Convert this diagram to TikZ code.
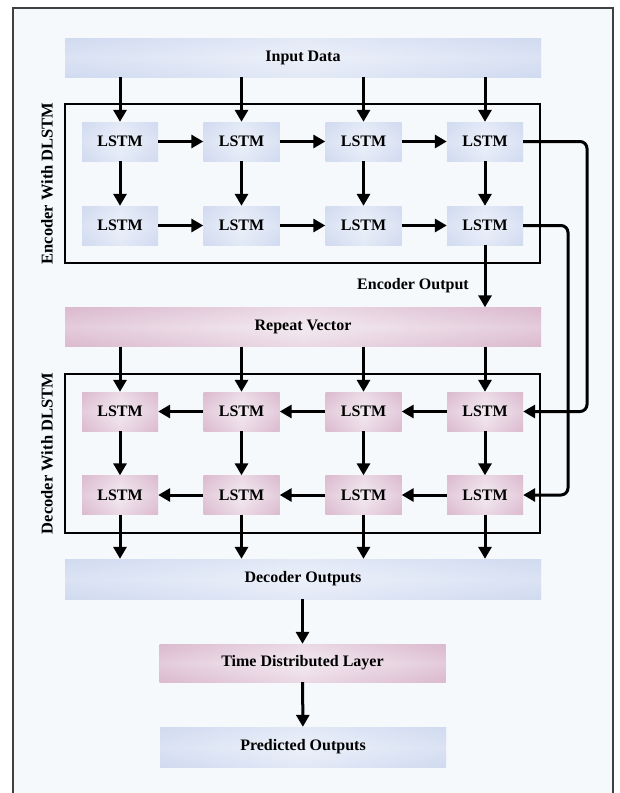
\documentclass[tikz,border=0pt]{standalone}
\usepackage{fontspec}
\setmainfont{Liberation Serif}
\usetikzlibrary{arrows.meta}
\definecolor{bgc}{HTML}{F5F9FC}
\definecolor{bedge}{HTML}{C2CEEC}
\definecolor{bmid}{HTML}{E9EEF9}
\definecolor{pedge}{HTML}{D1A0BC}
\definecolor{pmid}{HTML}{F3E5ED}
\definecolor{framec}{HTML}{404040}
\tikzset{
  boxfont/.style={font=\fontsize{16}{19}\selectfont\bfseries},
  bluebox/.style={draw=none, inner sep=0pt, boxfont,
    preaction={top color=bedge, bottom color=bedge, middle color=bmid},
    left color=bedge, right color=bedge, middle color=bmid, fill opacity=0.45, text opacity=1},
  pinkbox/.style={draw=none, inner sep=0pt, boxfont,
    preaction={top color=pedge, bottom color=pedge, middle color=pmid},
    left color=pedge, right color=pedge, middle color=pmid, fill opacity=0.45, text opacity=1},
  cell/.style={minimum width=76pt, minimum height=39pt},
  wide/.style={minimum width=476pt, minimum height=39pt},
  mid/.style={minimum width=286pt, minimum height=39pt},
  arr/.style={line width=3pt, -{Triangle[length=12pt,width=13pt]}},
  conn/.style={line width=3pt, rounded corners=7pt, -{Triangle[length=12pt,width=13pt]}},
  group/.style={draw=black, line width=1.4pt},
  vlabel/.style={rotate=90, font=\fontsize{16.5}{19}\selectfont\bfseries}
}
\begin{document}
\begin{tikzpicture}[x=1pt,y=-1pt]
\useasboundingbox (0,0) rectangle (619,793);
\fill[white] (0,0) rectangle (619,793);
\fill[bgc] (13,8) rectangle (613,793);
\draw[framec, line width=1.8pt] (13,793) -- (13,8) -- (613,8) -- (613,793);

% group frames
\draw[group] (65,104) rectangle (540,263);
\draw[group] (65,374) rectangle (540,533);
\node[vlabel] (enclab) at (47,183.5) {Encoder With DLSTM};
\node[vlabel] (declab) at (47,453.5) {Decoder With DLSTM};

% wide boxes
\node[bluebox, wide] (inp) at (303,57.5) {Input Data};
\node[pinkbox, wide] (rep) at (303,327) {Repeat Vector};
\node[bluebox, wide, minimum height=40pt] (dout) at (303,579) {Decoder Outputs};
\node[pinkbox, mid, minimum height=38pt] (tdl) at (302.5,663) {Time Distributed Layer};
\node[bluebox, mid, minimum height=40pt] (pred) at (303,747) {Predicted Outputs};

% LSTM cells
\foreach \i/\x in {1/120,2/241.5,3/363.5,4/485}{
  \node[bluebox, cell] (e1\i) at (\x,141.5) {LSTM};
  \node[bluebox, cell] (e2\i) at (\x,225.5) {LSTM};
  \node[pinkbox, cell] (d1\i) at (\x,411.5) {LSTM};
  \node[pinkbox, cell] (d2\i) at (\x,495) {LSTM};
}

% vertical arrows
\foreach \i in {1,2,3,4}{
  \draw[arr] (inp.south -| e1\i) -- (e1\i.north);
  \draw[arr] (e1\i) -- (e2\i);
  \draw[arr] (rep.south -| d1\i) -- (d1\i.north);
  \draw[arr] (d1\i) -- (d2\i);
  \draw[arr] (d2\i.south) -- (dout.north -| d2\i);
}
% horizontal arrows
\foreach \i/\j in {1/2,2/3,3/4}{
  \draw[arr] (e1\i) -- (e1\j);
  \draw[arr] (e2\i) -- (e2\j);
  \draw[arr] (d1\j) -- (d1\i);
  \draw[arr] (d2\j) -- (d2\i);
}

% encoder output
\draw[arr] (e24.south) -- (rep.north -| e24);
\node[boxfont] (eout) at (413,285.5) {Encoder Output};

% side connectors
\coordinate (c1) at (587,0);
\coordinate (c2) at (568,0);
\draw[conn] (e14.east) -- (e14.east -| c1) -- (d14.east -| c1) -- (d14.east);
\draw[conn] (e24.east) -- (e24.east -| c2) -- (d24.east -| c2) -- (d24.east);

% bottom chain
\draw[arr] (dout.south -| tdl) -- (tdl.north);
\draw[arr] (tdl) -- (pred);
\end{tikzpicture}
\end{document}
